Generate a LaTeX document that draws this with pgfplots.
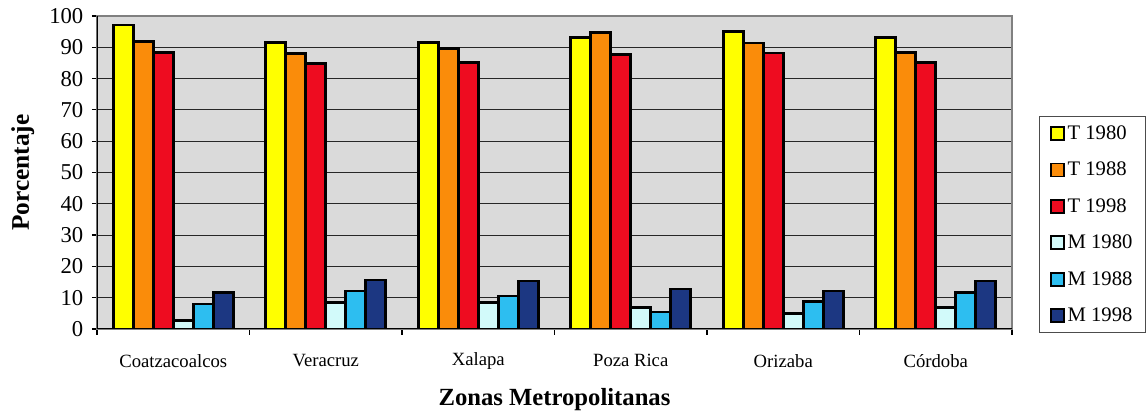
\documentclass[border=0pt]{standalone}
\usepackage{fontspec}
\setmainfont{Liberation Serif}
\usepackage{pgfplots}
\pgfplotsset{compat=1.18}
\definecolor{cA}{RGB}{255,255,0}
\definecolor{cB}{RGB}{250,140,10}
\definecolor{cC}{RGB}{238,12,32}
\definecolor{cD}{RGB}{210,250,250}
\definecolor{cE}{RGB}{45,190,240}
\definecolor{cF}{RGB}{28,55,130}
\definecolor{bg}{RGB}{218,218,218}
\begin{document}
\begin{tikzpicture}
\useasboundingbox (0,0) rectangle (859.5pt,312.75pt);
\begin{axis}[
  at={(72.75pt,66pt)}, anchor=south west,
  scale only axis, width=686.25pt, height=234.75pt,
  ybar=0pt, bar width=15pt,
  xmin=-0.5, xmax=5.5, ymin=0, ymax=100,
  ytick={0,10,...,100},
  xtick={0,...,5},
  xticklabels={Coatzacoalcos,Veracruz,Xalapa,Poza Rica,Orizaba,Córdoba},
  minor xtick={-0.5,0.5,...,5.5},
  major x tick style={draw=none},
  minor tick length=4.5pt, major tick length=3.75pt,
  tick align=outside, tick pos=left,
  tick style={black, line width=0.9pt},
  /pgf/number format/assume math mode=true,
  yticklabel style={font=\fontsize{17}{19}\selectfont, anchor=east, xshift=-3pt},
  xticklabel style={font=\fontsize{14}{16}\selectfont, anchor=center, yshift=-20pt},
  ymajorgrids, grid style={black!85, line width=0.7pt},
  axis line style={gray, line width=0.8pt},
  axis background/.style={fill=bg},
  ylabel={\textbf{Porcentaje}},
  ylabel style={font=\fontsize{19}{22}\selectfont, at={(axis description cs:-0.081,0.5)}, anchor=center},
  xlabel={\textbf{Zonas Metropolitanas}},
  xlabel style={font=\fontsize{18.5}{22}\selectfont, at={(axis description cs:0.5,-0.225)}, anchor=center},
  every axis plot/.append style={draw=black, line width=1.9pt},
  legend image code/.code={\draw[#1,line width=1.4pt] (0pt,-4.9pt) rectangle (9.75pt,4.9pt);},
  legend cell align=left,
  legend style={at={(1.0295,0.6805)}, anchor=north west, draw=black!70, line width=0.6pt,
    font=\fontsize{15.5}{17}\selectfont, row sep=11.5pt, inner xsep=8pt, inner ysep=5pt,
    nodes={inner xsep=2pt}},
]
\addplot[fill=cA] coordinates {(0,97.1) (1,91.6) (2,91.6) (3,93.1) (4,95.0) (5,93.1)};
\addplot[fill=cB] coordinates {(0,91.8) (1,88.0) (2,89.7) (3,94.7) (4,91.3) (5,88.4)};
\addplot[fill=cC] coordinates {(0,88.4) (1,84.9) (2,85.2) (3,87.7) (4,88.2) (5,85.2)};
\addplot[fill=cD] coordinates {(0,2.7) (1,8.5) (2,8.5) (3,6.9) (4,5.0) (5,6.9)};
\addplot[fill=cE] coordinates {(0,8.0) (1,12.2) (2,10.5) (3,5.5) (4,8.7) (5,11.7)};
\addplot[fill=cF] coordinates {(0,11.7) (1,15.6) (2,15.3) (3,12.8) (4,12.2) (5,15.3)};
\legend{T 1980,T 1988,T 1998,M 1980,M 1988,M 1998}
\draw[black, line width=1pt] (rel axis cs:0,0) -- (rel axis cs:0,1);
\draw[black, line width=1pt] (rel axis cs:0,0) -- (rel axis cs:1,0);
\end{axis}
\end{tikzpicture}
\end{document}
